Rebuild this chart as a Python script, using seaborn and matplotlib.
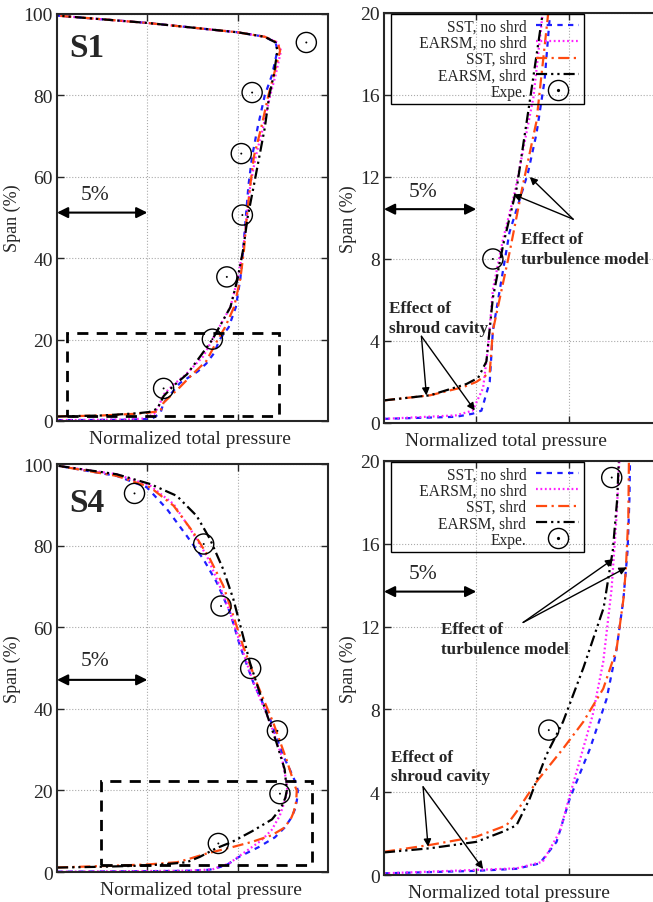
import numpy as np
import pandas as pd
import matplotlib
matplotlib.use("Agg")
import matplotlib.pyplot as plt
from matplotlib.lines import Line2D
from matplotlib.patches import Rectangle
import seaborn as sns

# ---------------- data (x: normalized total pressure in %, y: span in %) ----------------
models = ['SST, no shrd', 'EARSM, no shrd', 'SST, shrd', 'EARSM, shrd']

# station S1
s1_sst_noshrd_x = [0, 3.9, 4.8, 5.28, 5.73, 5.9, 6.8, 7.8, 8.26, 8.7, 9.0, 9.5, 9.9, 10.15, 10.3, 10.45, 10.6, 10.8, 11.1, 11.5, 11.9, 12.2, 12.1, 11.5, 10, 5, 0]
s1_sst_noshrd_y = [0.2, 0.3, 0.45, 0.6, 2.0, 4.5, 9.3, 12.2, 14.1, 16.7, 20, 23, 28, 35, 42, 50, 58, 65, 72, 80, 85, 91, 93, 94.4, 95.5, 97.8, 99.6]
s1_earsm_noshrd_x = [0, 3.9, 4.8, 5.37, 5.64, 5.9, 6.46, 7.1, 8.1, 8.6, 9.1, 9.6, 10.0, 10.3, 10.5, 10.7, 11.0, 11.4, 11.8, 12.1, 12.4, 12.2, 11.5, 10, 5, 0]
s1_earsm_noshrd_y = [0.2, 0.37, 0.6, 1.7, 3.7, 6.5, 9.0, 11.3, 15.9, 20, 24, 28, 35, 42, 50, 58, 65, 72, 80, 85, 91, 93, 94.4, 95.5, 97.8, 99.6]
s1_sst_shrd_x = [0, 2.5, 4.3, 5.0, 5.73, 5.9, 6.8, 7.5, 8.26, 8.9, 9.3, 9.8, 10.15, 10.35, 10.5, 10.7, 10.9, 11.3, 11.7, 12.0, 12.35, 12.2, 11.5, 10, 5, 0]
s1_sst_shrd_y = [1.1, 1.35, 1.75, 2.0, 2.45, 4.5, 8.3, 11.5, 14.7, 20, 23, 28, 35, 42, 50, 58, 65, 72, 80, 85, 91, 93, 94.4, 95.5, 97.8, 99.6]
s1_earsm_shrd_x = [0, 2.5, 4.47, 5.1, 5.55, 5.9, 6.46, 7.2, 7.9, 8.6, 9.1, 9.6, 10.0, 10.3, 10.55, 10.9, 11.2, 11.5, 11.75, 12.0, 12.2, 12.1, 11.5, 10, 5, 0]
s1_earsm_shrd_y = [1.1, 1.35, 1.9, 2.2, 3.0, 6.1, 8.7, 11.5, 15.7, 20, 24, 28, 35, 42, 50, 58, 65, 72, 80, 85, 91, 93, 94.4, 95.5, 97.8, 99.6]
s1_expe_x = [5.9, 8.6, 9.4, 10.26, 10.2, 10.8, 13.8]
s1_expe_y = [8.0, 20.1, 35.4, 50.6, 65.7, 80.7, 93.0]

# station S4
s4_sst_noshrd_x = [0, 5, 7.18, 8.44, 9.35, 10.07, 11.16, 12.06, 12.6, 12.97, 13.2, 13.3, 13.33, 13.2, 12.9, 12.52, 11.8, 10.87, 10.13, 9.58, 8.84, 8.1, 7.18, 6.08, 4.97, 3.3, 0]
s4_sst_noshrd_y = [0.08, 0.2, 0.3, 0.56, 1.6, 3.7, 6.1, 8.5, 10.9, 13.3, 15.7, 18.2, 20, 22, 25, 28.5, 37.4, 46.4, 55.4, 63.6, 71, 76.7, 82.4, 89, 94.3, 97.1, 99.6]
s4_earsm_noshrd_x = [0, 7.18, 8.6, 9.53, 10.07, 11.3, 11.88, 12.33, 12.6, 12.75, 12.7, 12.43, 11.8, 10.87, 10.13, 9.58, 9.0, 8.29, 7.37, 6.45, 5.16, 3.3, 0]
s4_earsm_noshrd_y = [0.08, 0.32, 0.64, 2.1, 3.85, 7.7, 10.3, 13.8, 17.3, 20, 22, 28.5, 36.6, 46.4, 56.2, 63.6, 70.2, 77.5, 84.1, 90.2, 94.7, 97.5, 99.6]
s4_sst_shrd_x = [0, 2.48, 5.0, 6.64, 7.18, 8.26, 9.7, 10.8, 11.88, 12.6, 12.97, 13.1, 13.24, 13.27, 13.17, 12.7, 11.97, 11.05, 10.3, 9.76, 9.2, 8.47, 7.55, 6.45, 5.16, 3.3, 0]
s4_sst_shrd_y = [1.12, 1.45, 1.85, 2.4, 3.05, 4.5, 6.1, 7.4, 9.0, 10.9, 13.3, 14.7, 17.3, 20, 21.1, 27.6, 36.6, 46.4, 55.4, 62.8, 70.2, 76.7, 83.2, 89.8, 94.3, 97.1, 99.6]
s4_earsm_shrd_x = [0, 2.48, 5.0, 6.46, 7.18, 7.9, 8.8, 9.7, 10.8, 11.9, 12.4, 12.64, 12.72, 12.6, 12.15, 11.4, 10.68, 10.2, 9.76, 9.2, 8.47, 7.73, 6.63, 5.16, 3.3, 0]
s4_earsm_shrd_y = [1.09, 1.29, 1.6, 2.1, 2.4, 3.7, 5.8, 7.4, 10.0, 12.9, 15.7, 18.2, 20, 25.2, 31.7, 41.5, 51.3, 59.5, 66.9, 74.2, 81.6, 87.3, 92.2, 95.1, 97.5, 99.6]
s4_expe_x = [8.93, 12.34, 12.2, 10.72, 9.08, 8.12, 4.29]
s4_expe_y = [7.0, 19.2, 34.6, 49.9, 65.2, 80.4, 92.8]

# ---------------- style ----------------
sns.set_style("ticks")
plt.rcParams['font.family'] = ['Liberation Serif', 'DejaVu Serif']

palette = {'SST, no shrd': '#1f1fff', 'EARSM, no shrd': '#ff1fff',
           'SST, shrd': '#ff4a10', 'EARSM, shrd': '#000000'}
dashes = {'SST, no shrd': (2.4, 2.4), 'EARSM, no shrd': (0.8, 1.2),
          'SST, shrd': (5, 2, 1, 2), 'EARSM, shrd': (5, 1.8, 1, 1.8, 1, 1.8)}


def curves_frame(xs, ys):
    rows = []
    for m, x, y in zip(models, xs, ys):
        for i, (a, b) in enumerate(zip(x, y)):
            rows.append({'x': a, 'y': b, 'model': m, 'i': i})
    return pd.DataFrame(rows)


df_s1 = curves_frame([s1_sst_noshrd_x, s1_earsm_noshrd_x, s1_sst_shrd_x, s1_earsm_shrd_x],
                     [s1_sst_noshrd_y, s1_earsm_noshrd_y, s1_sst_shrd_y, s1_earsm_shrd_y])
df_s4 = curves_frame([s4_sst_noshrd_x, s4_earsm_noshrd_x, s4_sst_shrd_x, s4_earsm_shrd_x],
                     [s4_sst_noshrd_y, s4_earsm_noshrd_y, s4_sst_shrd_y, s4_earsm_shrd_y])

fig = plt.figure(figsize=(6.53, 9.03), dpi=100)
ax_tl = fig.add_axes([0.0873, 0.5327, 0.415, 0.4507])
ax_tr = fig.add_axes([0.588, 0.5305, 0.424, 0.454])
ax_bl = fig.add_axes([0.0873, 0.0332, 0.415, 0.4518])
ax_br = fig.add_axes([0.588, 0.0299, 0.424, 0.4585])


def draw_panel(ax, df, ex, ey, ymax, yticks, xlab_x):
    sns.lineplot(data=df, x='x', y='y', hue='model', style='model', hue_order=models,
                 style_order=models, palette=palette, dashes=dashes, sort=False,
                 estimator=None, units='model', legend=False, lw=1.6, ax=ax)
    # gnuplot-like: points outside the y range are not drawn at all
    pts = pd.DataFrame({'x': ex, 'y': ey})
    pts = pts[pts['y'] <= ymax]
    sns.scatterplot(data=pts, x='x', y='y', marker='o', s=210, color='none', edgecolor='black',
                    linewidth=1.0, ax=ax, zorder=5)
    sns.scatterplot(data=pts, x='x', y='y', marker='o', s=2, color='black', edgecolor='none',
                    ax=ax, zorder=5)
    ax.set_xlim(0, 15)
    ax.set_ylim(0, ymax)
    ax.set_xticks([5, 10])
    ax.set_yticks(yticks)
    ax.grid(True, color='#aaaaaa', linestyle=':', linewidth=0.8)
    ax.tick_params(direction='in', top=True, right=True, labelbottom=False,
                   length=5, width=1, labelsize=14, pad=3)
    for s in ax.spines.values():
        s.set_linewidth(1.5)
    ax.set_xlabel('Normalized total pressure', fontsize=14)
    ax.xaxis.set_label_coords(xlab_x, -0.022)
    ax.set_ylabel('Span (%)', fontsize=13, labelpad=2)
    ax.set_axisbelow(True)


def five_percent(ax, y, ty):
    ax.annotate('', xy=(0, y), xytext=(5, y),
                arrowprops=dict(arrowstyle='<|-|>', color='black', lw=1.5, mutation_scale=16,
                                shrinkA=0, shrinkB=0))
    ax.text(2.1, ty, '5%', fontsize=15.5, ha='center', va='center')


def effect(ax, text, tx, ty, tail, heads):
    ax.text(tx, ty, text, fontsize=12.3, fontweight='bold', ha='left', va='top', linespacing=1.3)
    for h in heads:
        ax.annotate('', xy=h, xytext=tail,
                    arrowprops=dict(arrowstyle='-|>', color='black', lw=1.0, mutation_scale=11,
                                    shrinkA=0, shrinkB=0))


draw_panel(ax_tl, df_s1, s1_expe_x, s1_expe_y, 100, [0, 20, 40, 60, 80, 100], 0.49)
draw_panel(ax_tr, df_s1, s1_expe_x, s1_expe_y, 20, [0, 4, 8, 12, 16, 20], 0.44)
draw_panel(ax_bl, df_s4, s4_expe_x, s4_expe_y, 100, [0, 20, 40, 60, 80, 100], 0.53)
draw_panel(ax_br, df_s4, s4_expe_x, s4_expe_y, 20, [0, 4, 8, 12, 16, 20], 0.45)

# zoom boxes on left panels
ax_tl.add_patch(Rectangle((0.55, 1.2), 12.3 - 0.55, 21.5 - 1.2, fill=False, ec='black',
                          lw=2, ls=(0, (4, 3)), zorder=6))
ax_bl.add_patch(Rectangle((2.43, 1.8), 14.1 - 2.43, 22.3 - 1.8, fill=False, ec='black',
                          lw=2, ls=(0, (4, 3)), zorder=6))

ax_tl.text(0.7, 91.8, 'S1', fontsize=24, fontweight='bold', ha='left', va='center')
ax_bl.text(0.7, 90.5, 'S4', fontsize=24, fontweight='bold', ha='left', va='center')

five_percent(ax_tl, 51.2, 55.7)
five_percent(ax_bl, 47.1, 51.8)
five_percent(ax_tr, 10.43, 11.3)
five_percent(ax_br, 13.69, 14.55)

effect(ax_tr, 'Effect of\nturbulence model', 7.45, 9.35, (10.25, 9.94), [(7.9, 12.0), (7.0, 11.15)])
effect(ax_tr, 'Effect of\nshroud cavity', 0.25, 6.0, (2.03, 4.23), [(2.3, 1.34), (4.92, 0.61)])
effect(ax_br, 'Effect of\nturbulence model', 3.1, 12.25, (7.54, 12.2), [(12.42, 15.26), (13.15, 14.86)])
effect(ax_br, 'Effect of\nshroud cavity', 0.4, 6.1, (2.12, 4.26), [(2.39, 1.37), (5.37, 0.29)])

# legends on right panels
handles = [Line2D([], [], color=palette[m], lw=1.6, dashes=dashes[m]) for m in models]
handles.append((Line2D([], [], ls='none', marker='o', ms=14.5, mfc='none', mec='black', mew=1.0),
                Line2D([], [], ls='none', marker='o', ms=1.3, color='black')))
labels = ['SST, no shrd', '      EARSM, no shrd', 'SST, shrd', 'EARSM, shrd', 'Expe.']
for ax in (ax_tr, ax_br):
    leg = ax.legend(handles, labels, loc='upper left', bbox_to_anchor=(0.025, 0.998),
                    borderaxespad=0, markerfirst=False, fontsize=11.2, labelspacing=0.02,
                    handlelength=2.75, handletextpad=0.65, borderpad=0.3, fancybox=False,
                    edgecolor='black')
    frame = leg.get_frame()
    frame.set_facecolor('none')
    frame.set_edgecolor('black')
    frame.set_alpha(None)
    frame.set_linewidth(1.0)

fig.savefig('out.png', dpi=100)
print('out.png')
